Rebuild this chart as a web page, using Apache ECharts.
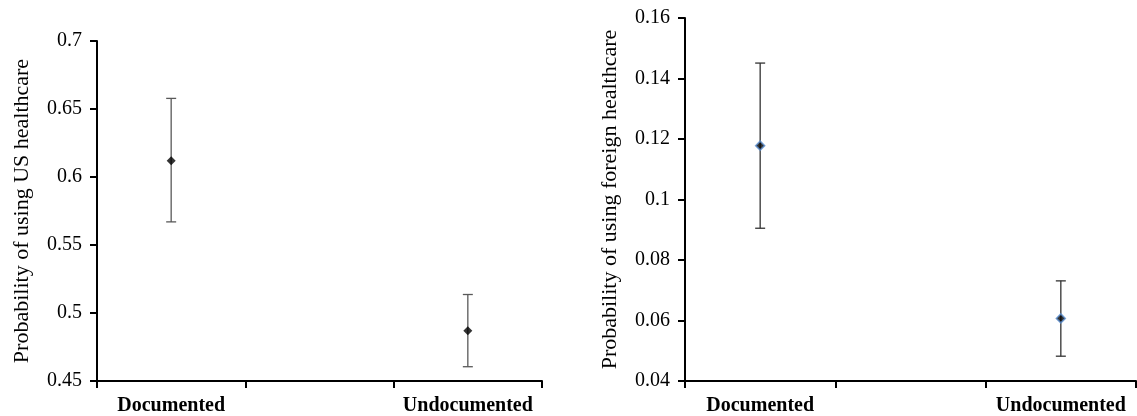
<!DOCTYPE html>
<html>
<head>
<meta charset="utf-8">
<script src="https://cdn.jsdelivr.net/npm/echarts@6/dist/echarts.min.js"></script>
<style>
  html, body { margin: 0; padding: 0; background: #fff; }
  #chart { width: 1137px; height: 416px; }
</style>
</head>
<body>
<div id="chart"></div>
<script>
// categories (middle slot left blank so the points sit under the outer ticks like the original)
const categories = ['Documented', '', 'Undocumented'];

// left panel: probability of using US healthcare
const usMean = [0.612, null, 0.487];
const usLow = [0.567, null, 0.4605];
const usHigh = [0.6578, null, 0.5136];
const usTicks = [0.45, 0.7, 0.05];

// right panel: probability of using foreign healthcare
const foreignMean = [0.1178, null, 0.0607];
const foreignLow = [0.0905, null, 0.0482];
const foreignHigh = [0.1451, null, 0.0731];
const foreignTicks = [0.04, 0.16, 0.02];

const font = 'Liberation Serif';

function errData(low, high) {
  const out = [];
  low.forEach((l, i) => { if (l != null) out.push([i, l, high[i]]); });
  return out;
}

function errSeries(idx, low, high, color) {
  return {
    type: 'custom',
    xAxisIndex: idx,
    yAxisIndex: idx,
    data: errData(low, high),
    encode: { x: 0, y: [1, 2] },
    renderItem: function (params, api) {
      const lo = api.coord([api.value(0), api.value(1)]);
      const hi = api.coord([api.value(0), api.value(2)]);
      const w = 5;
      const style = { stroke: color, lineWidth: 1.3 };
      return {
        type: 'group',
        children: [
          { type: 'line', shape: { x1: lo[0], y1: lo[1], x2: hi[0], y2: hi[1] }, style: style },
          { type: 'line', shape: { x1: lo[0] - w, y1: lo[1], x2: lo[0] + w, y2: lo[1] }, style: style },
          { type: 'line', shape: { x1: hi[0] - w, y1: hi[1], x2: hi[0] + w, y2: hi[1] }, style: style }
        ]
      };
    },
    z: 1
  };
}

function xAxis(idx) {
  return {
    type: 'category',
    gridIndex: idx,
    data: categories,
    boundaryGap: true,
    axisLine: { lineStyle: { color: '#000', width: 2 } },
    axisTick: { show: true, length: 7, lineStyle: { color: '#000', width: 2 } },
    axisLabel: { color: '#000', fontFamily: font, fontSize: 20, fontWeight: 'bold', margin: 15, interval: 0 }
  };
}

function yAxis(idx, ticks, name) {
  return {
    type: 'value',
    gridIndex: idx,
    min: ticks[0],
    max: ticks[1],
    interval: ticks[2],
    name: name,
    nameLocation: 'middle',
    nameGap: 64,
    nameTextStyle: { color: '#000', fontFamily: font, fontSize: 22 },
    splitLine: { show: false },
    axisLine: { show: true, lineStyle: { color: '#000', width: 2 } },
    axisTick: { show: true, length: 7, lineStyle: { color: '#000', width: 2 } },
    axisLabel: {
      color: '#000', fontFamily: font, fontSize: 20, margin: 15,
      formatter: v => String(+v.toFixed(2))
    }
  };
}

const chart = echarts.init(document.getElementById('chart'), null, { renderer: 'canvas' });

chart.setOption({
  animation: false,
  grid: [
    { left: 97, right: 595, top: 41, bottom: 35 },
    { left: 685, right: 1, top: 18, bottom: 35 }
  ],
  xAxis: [xAxis(0), xAxis(1)],
  yAxis: [
    yAxis(0, usTicks, 'Probability of using US healthcare'),
    yAxis(1, foreignTicks, 'Probability of using foreign healthcare')
  ],
  series: [
    errSeries(0, usLow, usHigh, '#595959'),
    {
      type: 'scatter',
      xAxisIndex: 0,
      yAxisIndex: 0,
      data: usMean,
      symbol: 'diamond',
      symbolSize: 9,
      itemStyle: { color: '#000' },
      z: 3
    },
    errSeries(1, foreignLow, foreignHigh, '#333'),
    {
      type: 'scatter',
      xAxisIndex: 1,
      yAxisIndex: 1,
      data: foreignMean,
      symbol: 'diamond',
      symbolSize: 9,
      itemStyle: { color: '#000', borderColor: '#5b8fd0', borderWidth: 1.5 },
      z: 3
    }
  ]
});
</script>
</body>
</html>
